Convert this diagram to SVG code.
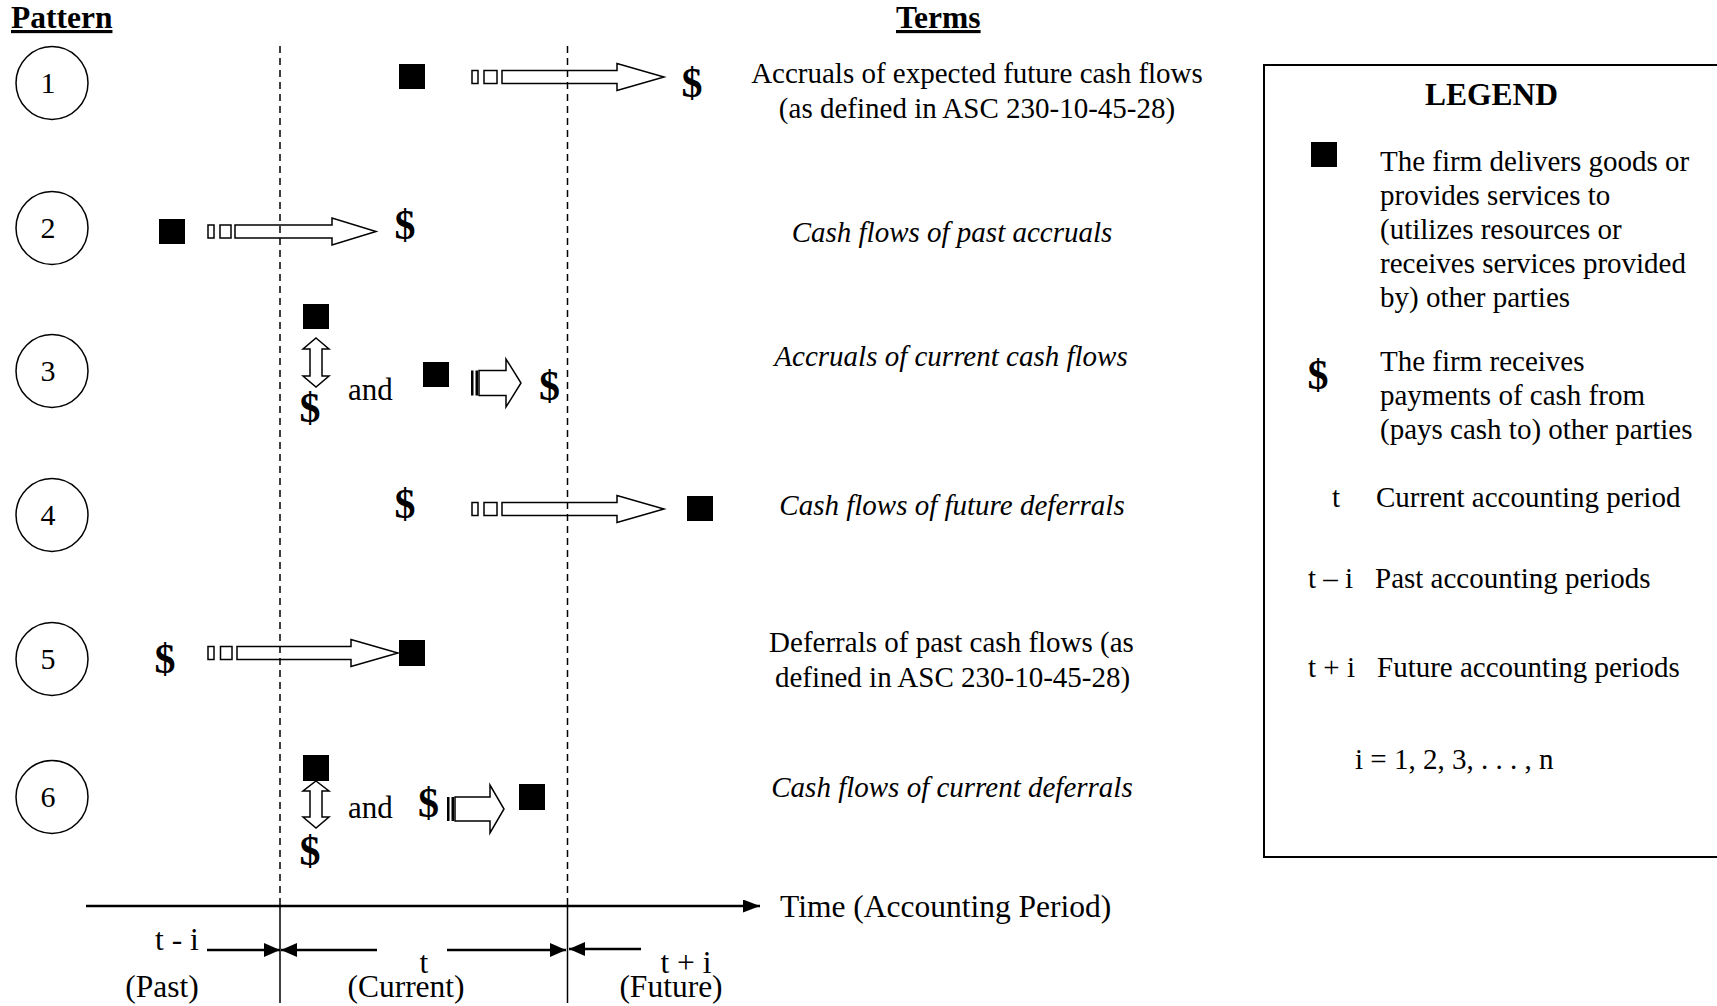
<svg xmlns="http://www.w3.org/2000/svg" width="1717" height="1006" viewBox="0 0 1717 1006">
<defs>
<style>
.t{font-family:"Liberation Serif","Times New Roman",serif;font-size:29px;fill:#000}
.i{font-style:italic}
.m{text-anchor:middle}
.h{font-size:31.5px;font-weight:bold;text-decoration:underline}
.d{font-size:42px;font-weight:bold;text-anchor:middle}
.lb{font-size:31.5px}
.num{font-size:30px;text-anchor:middle}
.sq{fill:#000}
.blk{fill:none;stroke:#000;stroke-width:1.5;stroke-linejoin:miter}
.stripe{fill:#000}
.guide{stroke:#000;stroke-width:1.5;stroke-dasharray:7 5;fill:none}
.solid{stroke:#000;stroke-width:1.5;fill:none}
.axis{stroke:#000;stroke-width:2.5;fill:none}
.circ{fill:none;stroke:#000;stroke-width:1.5}
</style>
<marker id="ah" viewBox="0 0 16 14" refX="16" refY="7" markerWidth="16" markerHeight="14" markerUnits="userSpaceOnUse" orient="auto">
<path d="M0,0 L16,7 L0,14 Z" fill="#000"/>
</marker>
<marker id="ahT" viewBox="0 0 17 13" refX="17" refY="6.5" markerWidth="17" markerHeight="13" markerUnits="userSpaceOnUse" orient="auto">
<path d="M0,0 L17,6.5 L0,13 Z" fill="#000"/>
</marker>
</defs>
<rect width="1717" height="1006" fill="#fff"/>

<g id="headers">
<text class="t h" x="11" y="28">Pattern</text>
<text class="t h" x="896" y="28">Terms</text>
</g>

<g id="guides">
<line class="guide" x1="280" y1="46" x2="280" y2="906"/>
<line class="guide" x1="567.5" y1="46" x2="567.5" y2="906"/>
<line class="solid" x1="280" y1="906" x2="280" y2="1003"/>
<line class="solid" x1="567.5" y1="906" x2="567.5" y2="1003"/>
</g>

<g id="pattern-1">
<ellipse class="circ" cx="52" cy="83" rx="36" ry="36.5"/>
<text class="t num" x="48" y="93">1</text>
<rect class="sq" x="399" y="64" width="26" height="25"/>
<text class="t d" x="692" y="97">$</text>
</g>
<g id="pattern-2">
<ellipse class="circ" cx="52" cy="228" rx="36" ry="36.5"/>
<text class="t num" x="48" y="238">2</text>
<rect class="sq" x="159" y="219" width="26" height="25"/>
<text class="t d" x="405" y="239">$</text>
</g>
<g id="pattern-3">
<ellipse class="circ" cx="52" cy="371" rx="36" ry="36.5"/>
<text class="t num" x="48" y="381">3</text>
<rect class="sq" x="303" y="304" width="26" height="25"/>
<text class="t d" x="310" y="422">$</text>
<text class="t" x="348" y="400" style="font-size:31px">and</text>
<rect class="sq" x="423" y="362" width="26" height="25"/>
<text class="t d" x="549.5" y="400">$</text>
</g>
<g id="pattern-4">
<ellipse class="circ" cx="52" cy="515" rx="36" ry="36.5"/>
<text class="t num" x="48" y="525">4</text>
<text class="t d" x="405" y="518">$</text>
<rect class="sq" x="687" y="496" width="26" height="25"/>
</g>
<g id="pattern-5">
<ellipse class="circ" cx="52" cy="659" rx="36" ry="36.5"/>
<text class="t num" x="48" y="669">5</text>
<text class="t d" x="165" y="673">$</text>
<rect class="sq" x="399" y="640" width="26" height="26"/>
</g>
<g id="pattern-6">
<ellipse class="circ" cx="52" cy="797" rx="36" ry="36.5"/>
<text class="t num" x="48" y="807">6</text>
<rect class="sq" x="303" y="755" width="26" height="26"/>
<text class="t d" x="310" y="865">$</text>
<text class="t" x="348" y="818" style="font-size:31px">and</text>
<text class="t d" x="428.5" y="817">$</text>
<rect class="sq" x="519" y="784" width="26" height="26"/>
</g>

<g id="connectors">
<!-- pattern 1 -->
<rect class="blk" x="472" y="70.5" width="6" height="13"/>
<rect class="blk" x="484" y="70.5" width="13" height="13"/>
<path class="blk" d="M502,70.5 H617 V63.5 L664,77 L617,90.5 V83.5 H502 Z"/>
<!-- pattern 2 -->
<rect class="blk" x="208" y="225" width="6" height="13"/>
<rect class="blk" x="220" y="225" width="11" height="13"/>
<path class="blk" d="M235,225 H332 V218 L376,231.5 L332,245 V238 H235 Z"/>
<!-- pattern 3 -->
<path class="blk" d="M316,338 L329,349 H322 V376 H329 L316,387 L303,376 H310 V349 H303 Z"/>
<rect class="stripe" x="471" y="370.5" width="2.5" height="25"/>
<rect class="stripe" x="475.5" y="370.5" width="2.5" height="25"/>
<path class="blk" d="M479,370.5 H506 V359 L521,383 L506,407 V395.5 H479 Z"/>
<!-- pattern 4 -->
<rect class="blk" x="472" y="502.5" width="6" height="13"/>
<rect class="blk" x="484" y="502.5" width="13" height="13"/>
<path class="blk" d="M502,502.5 H617 V495.5 L664,509 L617,522.5 V515.5 H502 Z"/>
<!-- pattern 5 -->
<rect class="blk" x="208" y="646.5" width="6" height="13"/>
<rect class="blk" x="220.5" y="646.5" width="11.5" height="13"/>
<path class="blk" d="M237,646.5 H351 V639.5 L398,653 L351,666.5 V659.5 H237 Z"/>
<!-- pattern 6 -->
<path class="blk" d="M316,781 L329,791 H322 V817 H329 L316,828 L303,817 H310 V791 H303 Z"/>
<rect class="stripe" x="447" y="797" width="2.5" height="24"/>
<rect class="stripe" x="451.5" y="797" width="2.5" height="24"/>
<path class="blk" d="M455,797 H490 V785 L504,809 L490,833 V821 H455 Z"/>
</g>

<g id="terms">
<text class="t m" x="977" y="83">Accruals of expected future cash flows</text>
<text class="t m" x="977" y="118">(as defined in ASC 230-10-45-28)</text>
<text class="t i m" x="952" y="242">Cash flows of past accruals</text>
<text class="t i m" x="951" y="366">Accruals of current cash flows</text>
<text class="t i m" x="952" y="515">Cash flows of future deferrals</text>
<text class="t m" x="951.5" y="652">Deferrals of past cash flows (as</text>
<text class="t m" x="952.5" y="687">defined in ASC 230-10-45-28)</text>
<text class="t i m" x="952" y="797">Cash flows of current deferrals</text>
</g>

<g id="time-axis">
<line class="axis" x1="86" y1="906" x2="760" y2="906" marker-end="url(#ahT)"/>
<text class="t" x="780" y="917" style="font-size:31.5px">Time (Accounting Period)</text>
</g>

<g id="period-labels">
<line class="axis" x1="207" y1="950" x2="280" y2="950" marker-end="url(#ah)"/>
<line class="axis" x1="377" y1="950" x2="281" y2="950" marker-end="url(#ah)"/>
<line class="axis" x1="447" y1="950" x2="566" y2="950" marker-end="url(#ah)"/>
<line class="axis" x1="641" y1="949" x2="569" y2="949" marker-end="url(#ah)"/>
<text class="t lb" x="155" y="950">t - i</text>
<text class="t lb m" x="162" y="997">(Past)</text>
<text class="t lb m" x="424" y="973">t</text>
<text class="t lb m" x="406" y="997">(Current)</text>
<text class="t lb m" x="686" y="973">t + i</text>
<text class="t lb m" x="671" y="997">(Future)</text>
</g>

<g id="legend">
<rect x="1264" y="65" width="520" height="792" fill="none" stroke="#000" stroke-width="2"/>
<text class="t m" x="1491.5" y="105" style="font-size:31.5px;font-weight:bold">LEGEND</text>
<rect class="sq" x="1311" y="142" width="26" height="25"/>
<text class="t" x="1380" y="171">The firm delivers goods or</text>
<text class="t" x="1380" y="205">provides services to</text>
<text class="t" x="1380" y="239">(utilizes resources or</text>
<text class="t" x="1380" y="273">receives services provided</text>
<text class="t" x="1380" y="307">by) other parties</text>
<text class="t d" x="1318" y="389">$</text>
<text class="t" x="1380" y="371">The firm receives</text>
<text class="t" x="1380" y="405">payments of cash from</text>
<text class="t" x="1380" y="439">(pays cash to) other parties</text>
<text class="t" x="1332" y="507">t</text>
<text class="t" x="1376" y="507">Current accounting period</text>
<text class="t" x="1308" y="588">t – i</text>
<text class="t" x="1375" y="588">Past accounting periods</text>
<text class="t" x="1308" y="677">t + i</text>
<text class="t" x="1377" y="677">Future accounting periods</text>
<text class="t" x="1355" y="769">i = 1, 2, 3, . . . , n</text>
</g>
</svg>
